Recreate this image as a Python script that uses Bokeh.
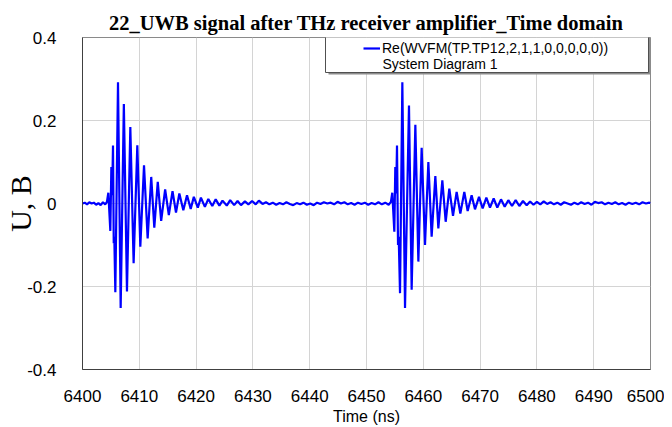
from bokeh.plotting import figure
from bokeh.models import (Range1d, FixedTicker, Legend, LegendItem, Label,
                          BoxAnnotation)
from bokeh.embed import file_html
from bokeh.resources import INLINE

# ---------------- data ----------------
x_ticks = [6400, 6410, 6420, 6430, 6440, 6450, 6460, 6470, 6480, 6490, 6500]
x_tick_labels = ["6400", "6410", "6420", "6430", "6440", "6450", "6460",
                 "6470", "6480", "6490", "6500"]
y_ticks = [-0.4, -0.2, 0.0, 0.2, 0.4]
y_tick_labels = ["-0.4", "-0.2", "0", "0.2", "0.4"]

pre_t = [6400.0, 6400.4, 6400.8, 6401.2, 6401.6, 6402.0, 6402.4, 6402.8,
         6403.2, 6403.6, 6404.0, 6404.3]
pre_u = [0.0, 0.002, -0.002, 0.003, 0.0, 0.002, -0.003, 0.001,
         -0.004, 0.003, -0.002, 0.004]

burst1_t = [6404.55, 6404.9, 6405.08, 6405.22, 6405.37, 6405.5, 6405.6,
            6405.78, 6406.25, 6406.72, 6407.28, 6407.83, 6408.42, 6409.0,
            6409.65, 6410.18, 6410.83, 6411.47, 6412.1, 6412.64, 6413.25,
            6413.85, 6414.55, 6415.2, 6415.85, 6416.46, 6417.05, 6417.75,
            6418.4, 6419.05, 6419.6, 6420.3, 6420.85, 6421.55, 6422.15,
            6422.85, 6423.45, 6424.1, 6424.65, 6425.4, 6426.0, 6426.7,
            6427.3, 6427.9, 6428.6, 6429.2, 6429.85, 6430.5, 6431.05, 6431.7]
burst1_u = [0.026, -0.066, 0.088, 0.02, 0.14, -0.096, -0.08,
            -0.214, 0.292, -0.252, 0.24, -0.212, 0.184, -0.144,
            0.14, -0.104, 0.092, -0.084, 0.064, -0.058, 0.052,
            -0.042, 0.034, -0.028, 0.03, -0.022, 0.024, -0.016,
            0.02, -0.013, 0.016, -0.01, 0.014, -0.008, 0.011,
            -0.006, 0.01, -0.005, 0.007, -0.005, 0.008, -0.004,
            0.006, -0.004, 0.005, -0.002, 0.006, -0.002, 0.007, -0.001]

gap_t = [6432.3, 6432.9, 6433.5, 6434.1, 6434.7, 6435.3, 6435.9, 6436.5,
         6437.1, 6437.7, 6438.3, 6438.9, 6439.5, 6440.1, 6440.7, 6441.3,
         6441.9, 6442.5, 6443.1, 6443.7, 6444.3, 6444.9, 6445.5, 6446.1,
         6446.7, 6447.3, 6447.9, 6448.5, 6449.1, 6449.7, 6450.3, 6450.9,
         6451.5, 6452.1, 6452.7, 6453.3, 6453.9, 6454.3]
gap_u = [0.003, -0.002, 0.002, -0.003, 0.001, -0.002, 0.003, -0.001,
         -0.004, 0.001, -0.002, 0.002, -0.003, 0.0, -0.004, 0.002,
         -0.001, 0.003, 0.0, 0.002, -0.002, 0.004, 0.0, 0.003,
         -0.002, 0.001, -0.003, 0.002, -0.001, 0.002, -0.003, 0.001,
         -0.002, 0.003, -0.002, 0.002, -0.003, 0.004]

burst2_t = [6454.54, 6454.9, 6455.07, 6455.22, 6455.37, 6455.55, 6455.67,
            6455.9, 6456.31, 6456.78, 6457.48, 6457.95, 6458.6, 6459.13,
            6459.71, 6460.3, 6460.89, 6461.47, 6462.12, 6462.65, 6463.35,
            6463.94, 6464.58, 6465.23, 6465.87, 6466.52, 6467.22, 6467.81,
            6468.51, 6469.1, 6469.81, 6470.45, 6471.1, 6471.74, 6472.39,
            6473.03, 6473.68, 6474.33, 6474.97, 6475.62, 6476.26, 6476.91,
            6477.55, 6478.2, 6478.8, 6479.4, 6480.0, 6480.6, 6481.2, 6481.8]
burst2_u = [0.026, -0.068, 0.088, 0.024, 0.14, -0.1, -0.08,
            -0.216, 0.292, -0.252, 0.236, -0.208, 0.19, -0.14,
            0.134, -0.1, 0.1, -0.08, 0.066, -0.06, 0.056,
            -0.044, 0.036, -0.03, 0.028, -0.024, 0.028, -0.018,
            0.02, -0.014, 0.016, -0.012, 0.014, -0.01, 0.012,
            -0.01, 0.01, -0.008, 0.008, -0.006, 0.008, -0.006,
            0.006, -0.004, 0.005, -0.003, 0.004, -0.002, 0.005, -0.001]

post_t = [6482.4, 6483.0, 6483.6, 6484.2, 6484.8, 6485.4, 6486.0, 6486.6,
          6487.2, 6487.8, 6488.4, 6489.0, 6489.6, 6490.2, 6490.8, 6491.4,
          6492.0, 6492.6, 6493.2, 6493.8, 6494.4, 6495.0, 6495.6, 6496.2,
          6496.8, 6497.4, 6498.0, 6498.6, 6499.2, 6499.8, 6500.0]
post_u = [0.003, -0.002, 0.002, -0.003, 0.003, 0.0, -0.003, 0.002,
          -0.002, 0.003, -0.001, 0.002, -0.003, 0.004, 0.001, 0.003,
          -0.002, 0.002, -0.001, 0.003, -0.002, 0.001, -0.003, 0.002,
          -0.001, 0.002, -0.002, 0.003, 0.0, 0.002, 0.001]

series_label = "Re(WVFM(TP.TP12,2,1,1,0,0,0,0,0))"
series_sub = "System Diagram 1"
title_text = "22_UWB signal after THz receiver amplifier_Time domain"
x_title = "Time (ns)"
y_title = "U, B"

t_all = pre_t + burst1_t + gap_t + burst2_t + post_t
u_all = pre_u + burst1_u + gap_u + burst2_u + post_u

# ---------------- figure ----------------
p = figure(width=664, height=427, output_backend="svg", toolbar_location=None,
           x_range=Range1d(6400, 6500), y_range=Range1d(-0.4, 0.4),
           min_border_left=82, min_border_right=14, min_border_top=37,
           min_border_bottom=55)
p.background_fill_color = "white"
p.border_fill_color = "white"
p.outline_line_color = "#8a8a8a"
p.outline_line_width = 1

p.title.text = title_text
p.title.align = "center"
p.title.text_font = "Liberation Serif"
p.title.text_font_style = "bold"
p.title.text_font_size = "20.5px"
p.title.text_color = "black"
p.title.standoff = 8

for ax, ticks, labels in ((p.xaxis[0], x_ticks, x_tick_labels),
                          (p.yaxis[0], y_ticks, y_tick_labels)):
    ax.ticker = FixedTicker(ticks=ticks)
    ax.major_label_overrides = dict(zip(ticks, labels))
    ax.major_tick_line_color = None
    ax.minor_tick_line_color = None
    ax.axis_line_color = "#404040"
    ax.axis_line_width = 1
    ax.major_label_text_font = "Liberation Sans"
    ax.major_label_text_font_size = "17px"
    ax.major_label_text_color = "black"
    ax.axis_label_text_color = "black"
    ax.axis_label_text_font_style = "normal"

p.xaxis.major_label_standoff = 14
p.xaxis.axis_label = x_title
p.xaxis.axis_label_text_font = "Liberation Sans"
p.xaxis.axis_label_text_font_size = "16px"
p.xaxis.axis_label_standoff = 3

p.yaxis.major_label_standoff = 20
p.yaxis.axis_label = y_title
p.yaxis.axis_label_text_font = "Liberation Serif"
p.yaxis.axis_label_text_font_size = "30px"
p.yaxis.axis_label_standoff = -13

p.xgrid.ticker = FixedTicker(ticks=x_ticks)
p.ygrid.ticker = FixedTicker(ticks=y_ticks)
p.grid.grid_line_color = "#d4d4d4"
p.grid.grid_line_width = 1

line_r = p.line(t_all, u_all, line_color="#0000ff", line_width=2.2)

# legend frame with shadow
shadow = BoxAnnotation(left=246, right=569, bottom=295, top=333,
                       left_units="screen", right_units="screen",
                       top_units="screen", bottom_units="screen",
                       fill_color="#8c8c8c", fill_alpha=1.0,
                       line_color=None)
box = BoxAnnotation(left=243, right=566, bottom=297, top=335,
                    left_units="screen", right_units="screen",
                    top_units="screen", bottom_units="screen",
                    fill_color="white", fill_alpha=1.0,
                    line_color="#505050", line_alpha=1.0, line_width=1)
p.add_layout(shadow)
p.add_layout(box)

legend = Legend(items=[LegendItem(label=series_label, renderers=[line_r])],
                location=(281, 313), padding=0, margin=0, spacing=0,
                glyph_width=17, glyph_height=14, label_standoff=2,
                label_height=14, label_text_font="Liberation Sans",
                label_text_font_size="14px", label_text_color="black",
                background_fill_alpha=0, border_line_alpha=0)
p.add_layout(legend)

p.add_layout(Label(x=300, y=306, x_units="screen", y_units="screen",
                   text=series_sub, text_font="Liberation Sans",
                   text_font_size="14px", text_color="black",
                   text_baseline="middle", text_align="left"))

open("out.html", "w").write(file_html(p, INLINE))
